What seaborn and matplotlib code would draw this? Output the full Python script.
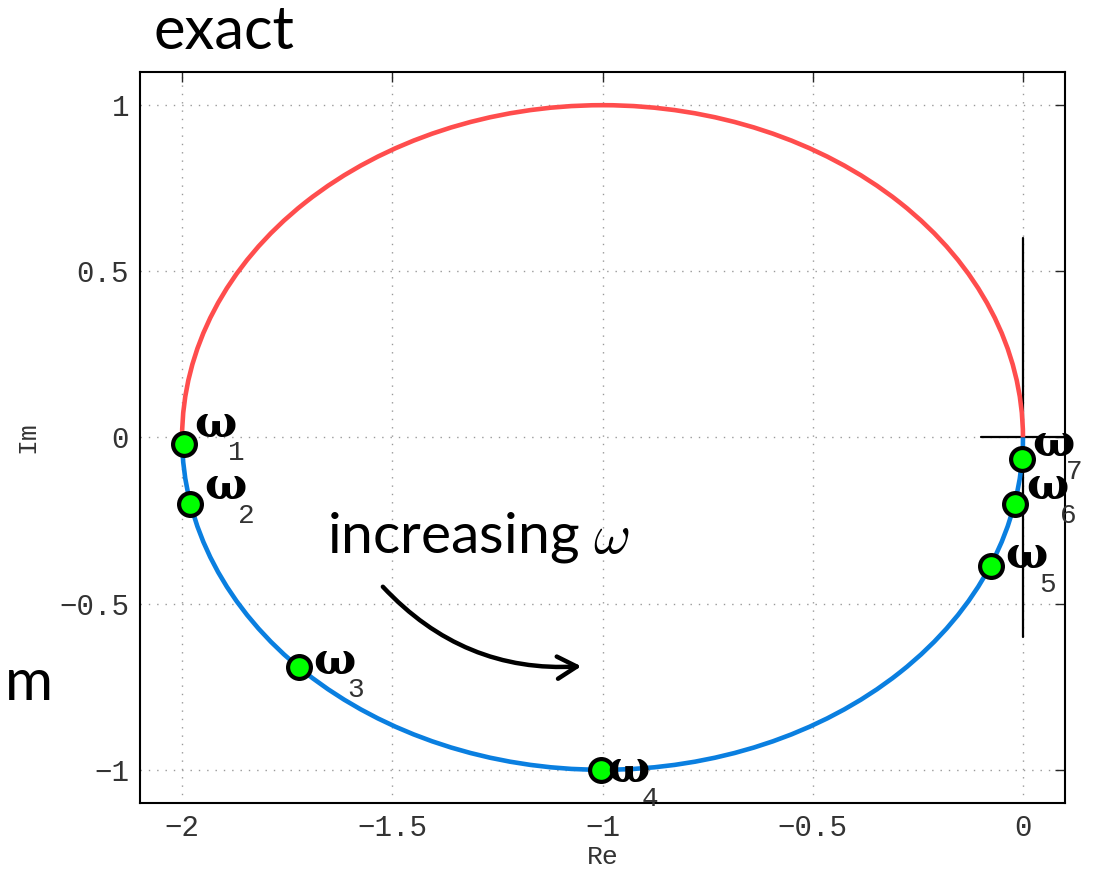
import numpy as np
import pandas as pd
import seaborn as sns
import matplotlib
matplotlib.use("Agg")
import matplotlib.pyplot as plt
from matplotlib.patches import Arc, FancyArrowPatch

# circle traced by the exact frequency response
circle_center = (-1.0, 0.0)
circle_diameter = 2.0

# sample frequencies on the lower half
labels = ["1", "2", "3", "4", "5", "6", "7"]
re_pts = [-1.995, -1.981, -1.722, -1.003, -0.076, -0.019, -0.002]
im_pts = [-0.020, -0.199, -0.692, -1.000, -0.386, -0.199, -0.066]

xticks = [-2, -1.5, -1, -0.5, 0]
yticks = [-1, -0.5, 0, 0.5, 1]

pts = pd.DataFrame({"Re": re_pts, "Im": im_pts, "k": labels})

sns.set_theme(style="white")
plt.rcParams["font.family"] = ["Liberation Mono", "DejaVu Sans"]
plt.rcParams["mathtext.fontset"] = "cm"
plt.rcParams["text.color"] = "black"

fig = plt.figure(figsize=(11.08, 8.84), dpi=100)
ax = fig.add_axes([0.1264, 0.0916, 0.8348, 0.827])

red = "#ff4d4d"
blue = "#0a7fe0"
ax.add_patch(Arc(circle_center, circle_diameter, circle_diameter, theta1=0, theta2=180,
                 color=red, lw=3.3, zorder=3))
ax.add_patch(Arc(circle_center, circle_diameter, circle_diameter, theta1=180, theta2=360,
                 color=blue, lw=3.3, zorder=3))

# cross at the origin
ax.plot([0, 0], [-0.6, 0.6], color="black", lw=1.6, zorder=2)
ax.plot([-0.1, 0.1], [0, 0], color="black", lw=1.6, zorder=2)

sns.scatterplot(data=pts, x="Re", y="Im", s=270, color="#00ff00", edgecolor="black",
                linewidth=3.0, zorder=5, legend=False, ax=ax)

# label offsets (pixels) of the omega glyph, left edge / vertical centre
offs = [(10, 20), (14, 17), (14, 6), (6, 0), (14, 10), (11, 17), (10, 16)]
for (x, y, k), (dx, dy) in zip(zip(re_pts, im_pts, labels), offs):
    ax.annotate("ω", (x, y), xytext=(dx, dy), textcoords="offset pixels",
                ha="left", va="center", fontsize=32, fontweight="bold",
                family=["DejaVu Serif"], color="black", zorder=6)
    ax.annotate(k, (x, y), xytext=(dx + 34, dy - 36), textcoords="offset pixels",
                ha="left", va="baseline", fontsize=20, color="#333333", zorder=6)

ax.text(-1.655, -0.347, r"increasing $\omega$", fontsize=41, family=["Lato"],
        color="black", ha="left", va="baseline")
ax.add_patch(FancyArrowPatch((-1.527, -0.443), (-1.044, -0.688),
                             connectionstyle="arc3,rad=0.24",
                             arrowstyle="->,head_length=14,head_width=8",
                             color="black", lw=3.2, zorder=4))

ax.set_xlim(-2.1, 0.1)
ax.set_ylim(-1.1, 1.1)
ax.set_xticks(xticks)
ax.set_yticks(yticks)
ax.set_xticklabels(["−2", "−1.5", "−1", "−0.5", "0"])
ax.set_yticklabels(["−1", "−0.5", "0", "0.5", "1"])
ax.grid(True, linestyle=(0, (1, 5)), color="#999999", lw=1)
ax.tick_params(direction="in", length=7, width=1, top=True, right=True,
               labelsize=21, labelcolor="#333333", pad=8)
for s in ax.spines.values():
    s.set_linewidth(1.5)
    s.set_color("black")
ax.set_xlabel("Re", fontsize=19, color="#333333", labelpad=2)
ax.set_ylabel("Im", fontsize=19, color="#333333", labelpad=14)

fig.text(153 / 1108, 1 - 49 / 884, "exact", fontsize=43, family=["Lato"],
         color="black", va="baseline")
fig.text(5 / 1108, 1 - 700 / 884, "m", fontsize=42, family=["Lato"],
         color="black", va="baseline")

fig.savefig("out.png", dpi=100)
